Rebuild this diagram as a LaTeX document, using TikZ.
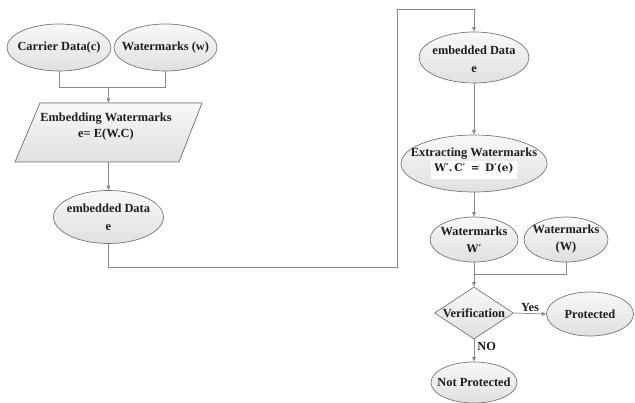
\documentclass[tikz,border=0pt]{standalone}
\usepackage{fontspec}
\setmainfont{Liberation Serif}
\newfontfamily\mathfnt{DejaVu Serif}
\usetikzlibrary{shapes.geometric,arrows.meta}
\definecolor{linegray}{HTML}{8A8A8A}
\definecolor{edgegray}{HTML}{767676}
\definecolor{filltop}{HTML}{F8F8F8}
\definecolor{fillbot}{HTML}{E0E0E0}
\definecolor{txt}{HTML}{1E1E1E}
\tikzset{
  shapefill/.style={draw=edgegray, line width=0.7pt, top color=filltop, bottom color=fillbot},
  ell/.style={ellipse, shapefill, inner sep=0pt},
  dia/.style={diamond, shapefill, inner sep=0pt},
  lbl/.style={align=center, text=txt},
  conn/.style={draw=linegray, line width=0.75pt},
  arr/.style={conn, -{Triangle[length=4.5pt,width=3.6pt]}},
}
\newcommand{\formfont}{\mathfnt\fontsize{10.5}{12}\selectfont}
\begin{document}
\begin{tikzpicture}[x=1pt,y=-1pt, font=\fontsize{12.4}{17}\selectfont\bfseries]
\useasboundingbox (0,0) rectangle (635,403);
% left column
\node[ell, minimum width=104pt, minimum height=47pt,
  label={[lbl]center:Carrier Data(c)}] (c) at (59,47.5) {};
\node[ell, minimum width=103pt, minimum height=47pt,
  label={[lbl]center:Watermarks (w)}] (w) at (165.5,47.5) {};
\coordinate (m1) at (108.5,87);
\filldraw[shapefill] (40,103) -- (202,103) -- (179,162) -- (15,162) -- cycle;
\node[minimum width=187pt, minimum height=59pt, inner sep=0pt] (emb) at (108.5,132.5) {};
\node[lbl, inner sep=0pt, font=\fontsize{12.4}{16}\selectfont\bfseries] (embt) at (106,126.5) {Embedding Watermarks\\e= E(W.C)};
\node[ell, minimum width=110pt, minimum height=53pt,
  label={[lbl, font=\fontsize{12.4}{18}\selectfont\bfseries]center:embedded Data\\e}] (e1) at (108.5,217) {};
\coordinate (r1) at (397,267);
\coordinate (r2) at (397,9);
% right column
\node[ell, minimum width=110pt, minimum height=51pt,
  label={[lbl, font=\fontsize{12.4}{18}\selectfont\bfseries, yshift=-2pt]center:embedded Data\\e}] (e2) at (474,57.5) {};
\node[ell, minimum width=146pt, minimum height=57pt,
  label={[lbl, font=\fontsize{12.4}{15}\selectfont\bfseries]center:Extracting Watermarks\\{\formfont\colorbox{white}{\strut W′.\,C′ \,=\, D′(e)}}}] (ext) at (474,163.5) {};
\node[ell, minimum width=88pt, minimum height=45pt,
  label={[lbl, font=\fontsize{12.4}{17}\selectfont\bfseries]center:Watermarks\\{\formfont W′}}] (wp) at (474,239.5) {};
\node[ell, minimum width=84pt, minimum height=45pt,
  label={[lbl, font=\fontsize{12.4}{17}\selectfont\bfseries]center:Watermarks\\(W)}] (ww) at (566,239.5) {};
\coordinate (m2) at (474,274);
\node[dia, minimum width=79pt, minimum height=52pt,
  label={[lbl]center:Verification}] (v) at (474,313) {};
\node[ell, minimum width=87pt, minimum height=44pt,
  label={[lbl]center:Protected}] (p) at (590,314) {};
\node[ell, minimum width=86pt, minimum height=41pt,
  label={[lbl]center:Not Protected}] (np) at (474,382.5) {};
% connectors
\draw[conn] (c.south) |- (m1);
\draw[conn] (w.south) |- (m1);
\draw[arr] (m1) -- (emb.north);
\draw[arr] (emb.south) -- (e1.north);
\draw[arr] (e1.south) |- (r1) -- (r2) -| (e2.north);
\draw[arr] (e2.south) -- (ext.north);
\draw[arr] (ext.south) -- (wp.north);
\draw[conn] (wp.south) -- (m2);
\draw[conn] (ww.south) |- (m2);
\draw[arr] (m2) -- (v.north);
\draw[arr] (v.east) -- node[lbl, above, inner sep=2pt] (yes) {Yes} (p.west);
\draw[arr] (v.south) -- node[lbl, right, pos=0.3, inner sep=3pt] (no) {NO} (np.north);
\end{tikzpicture}
\end{document}
